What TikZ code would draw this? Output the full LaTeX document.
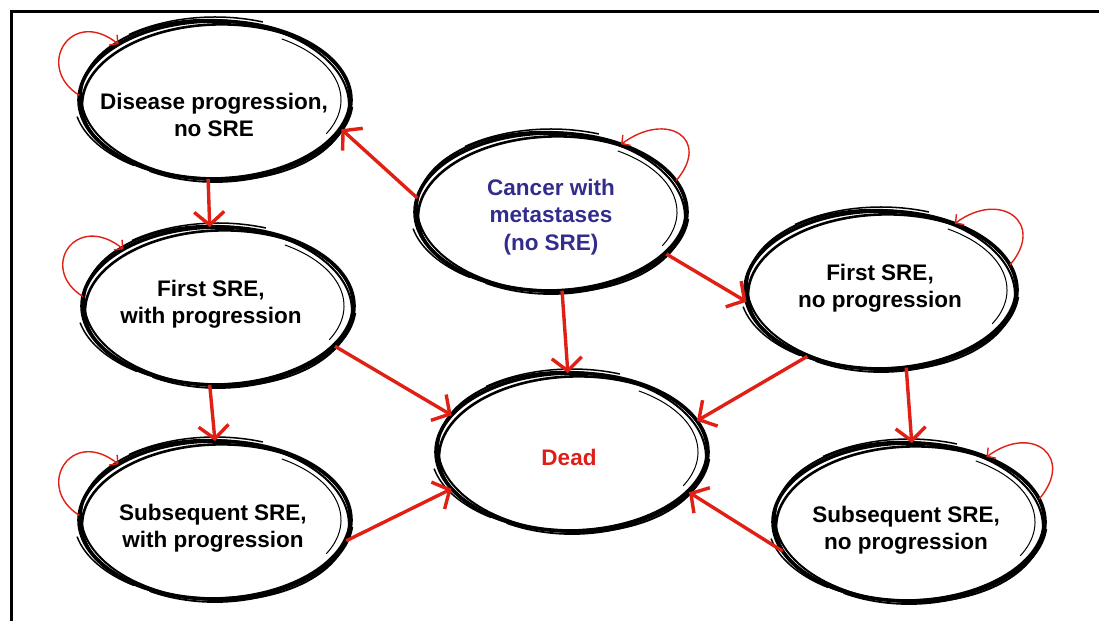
\documentclass[tikz,border=0pt]{standalone}
\usepackage{fontspec}
\setmainfont{Liberation Sans}
\usetikzlibrary{arrows.meta,calc,shapes.geometric}
\definecolor{arr}{RGB}{224,32,20}
\definecolor{navy}{RGB}{50,45,140}
\definecolor{deadred}{RGB}{222,30,25}
\newcommand\sketchy[1]{%
  \draw[line width=2pt, rotate around={-3:(#1.center)}] (#1.center) ellipse [x radius=134pt, y radius=80pt];
  \draw[line width=2.6pt, rotate around={2:(#1.center)}] ($(#1.center)+(1,-1.5)$) ellipse [x radius=134pt, y radius=77pt];
  \draw[line width=1pt] ($(#1.center)+({126*cos(58)},{72*sin(58)})$) arc[start angle=58, end angle=-28, x radius=126pt, y radius=72pt];
  \draw[line width=1.5pt] ($(#1.center)+({140*cos(128)},{83*sin(128)})$) arc[start angle=128, end angle=70, x radius=140pt, y radius=83pt];
  \draw[line width=1.5pt] ($(#1.center)+({141*cos(192)},{80*sin(192)})$) arc[start angle=192, end angle=235, x radius=141pt, y radius=80pt];
  \draw[line width=1.4pt] ($(#1.center)+({138*cos(-40)},{80*sin(-40)})$) arc[start angle=-40, end angle=-5, x radius=138pt, y radius=80pt];
  \draw[line width=1.8pt] ($(#1.center)+({131*cos(-120)},{82*sin(-120)})$) arc[start angle=-120, end angle=-60, x radius=131pt, y radius=82pt];
}
\tikzset{
  st/.style={ellipse, draw=black, line width=3.6pt, minimum width=272pt, minimum height=158pt, inner sep=0pt, outer sep=0pt},
  lbl/.style={font=\fontsize{22.5}{27.5}\selectfont\bfseries, align=center, inner sep=0pt},
  flow/.style={draw=arr, line width=3.4pt, -{Straight Barb[length=13pt,width=30pt]}},
  loop/.style={draw=arr, line width=1.4pt, -{Straight Barb[length=6pt,width=13pt]}}
}
\begin{document}
\begin{tikzpicture}[x=1pt,y=1pt]
\useasboundingbox (0,0) rectangle (1099,621);
\draw[line width=3pt] (11.5,0) -- (11.5,609.5) -- (1099,609.5);

\node[st] (dis) at (215,521) {};
\node[st] (fwp) at (218,315) {};
\node[st] (swp) at (215,101) {};
\node[st] (can) at (551,409) {};
\node[st] (dead) at (572,169) {};
\node[st] (fnp) at (881,331) {};
\node[st] (snp) at (909,99) {};
\sketchy{dis}\sketchy{fwp}\sketchy{swp}\sketchy{can}\sketchy{dead}\sketchy{fnp}\sketchy{snp}

\node[lbl] (dist) at (214,506) {Disease progression,\\no SRE};
\node[lbl] (fwpt) at (211,317) {First SRE,\\with progression};
\node[lbl] (swpt) at (213,93) {Subsequent SRE,\\with progression};
\node[lbl, text=navy] (cant) at (551,404) {Cancer with\\metastases\\(no SRE)};
\node[lbl, text=deadred] (deadt) at (569,164) {Dead};
\node[lbl] (fnpt) at (880,333) {First SRE,\\no progression};
\node[lbl] (snpt) at (906,91) {Subsequent SRE,\\no progression};

\draw[flow] (can.174) -- (dis.-13);
\draw[flow] (dis.-95) -- (fwp.96);
\draw[flow] (fwp.-96) -- (swp.90);
\draw[flow] (fwp.-19) -- (dead.163);
\draw[flow] (swp.-9) -- (dead.197);
\draw[flow] (can.-20) -- (fnp.185);
\draw[flow] (can.-82) -- (dead.93);
\draw[flow] (fnp.-138) -- (dead.14);
\draw[flow] (fnp.-72) -- (snp.88);
\draw[flow] (snp.193) -- (dead.-19);

\draw[loop] (dis.178) .. controls +(-45,28) and +(-48,38) .. (dis.150);
\draw[loop] (fwp.176) .. controls +(-45,28) and +(-48,38) .. (fwp.149);
\draw[loop] (swp.178) .. controls +(-45,28) and +(-48,38) .. (swp.150);
\draw[loop] (can.14) .. controls +(36,42) and +(46,34) .. (can.44);
\draw[loop] (fnp.11) .. controls +(36,42) and +(46,34) .. (fnp.42);
\draw[loop] (snp.10) .. controls +(36,42) and +(46,34) .. (snp.40);
\end{tikzpicture}
\end{document}
